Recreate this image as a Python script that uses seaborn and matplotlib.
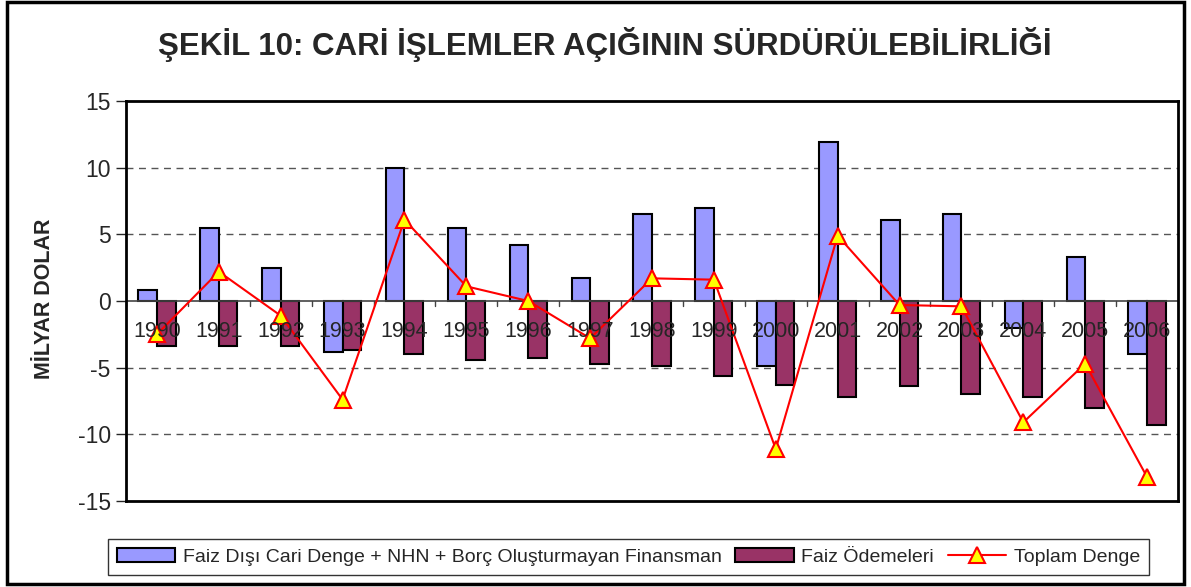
import numpy as np
import pandas as pd
import matplotlib
matplotlib.use('Agg')
import matplotlib.pyplot as plt
import seaborn as sns
from matplotlib.patches import Rectangle

sns.set_style('white')
plt.rcParams['font.family'] = ['Liberation Sans', 'DejaVu Sans']

years = ['1990', '1991', '1992', '1993', '1994', '1995', '1996', '1997', '1998',
         '1999', '2000', '2001', '2002', '2003', '2004', '2005', '2006']
faiz_disi = [0.8, 5.5, 2.5, -3.8, 10.0, 5.5, 4.2, 1.7, 6.5, 7.0, -4.9, 11.9,
             6.1, 6.5, -2.0, 3.3, -4.0]
faiz_odemeleri = [-3.4, -3.4, -3.4, -3.7, -4.0, -4.4, -4.3, -4.7, -4.9, -5.6,
                  -6.3, -7.2, -6.4, -7.0, -7.2, -8.0, -9.3]
toplam = [-2.5, 2.2, -1.1, -7.4, 6.1, 1.1, 0.0, -2.8, 1.7, 1.6, -11.1, 4.9,
          -0.3, -0.4, -9.1, -4.7, -13.2]

lab1 = 'Faiz Dışı Cari Denge + NHN + Borç Oluşturmayan Finansman'
lab2 = 'Faiz Ödemeleri'
lab3 = 'Toplam Denge'

df = pd.DataFrame({'yil': years * 2,
                   'deger': faiz_disi + faiz_odemeleri,
                   'seri': [lab1] * len(years) + [lab2] * len(years)})

fig = plt.figure(figsize=(11.91, 5.87), dpi=100)
ax = fig.add_axes([126 / 1191, 1 - 501 / 587, (1178 - 126) / 1191, (501 - 101) / 587])

sns.barplot(data=df, x='yil', y='deger', hue='seri', order=years,
            palette=['#9999FF', '#993366'], saturation=1, width=0.6, gap=0,
            edgecolor='black', linewidth=1.5, ax=ax, legend=False, errorbar=None)

line, = ax.plot(np.arange(len(years)), toplam, color='red', lw=1.5, marker='^',
                markersize=11, markerfacecolor='yellow', markeredgecolor='red',
                markeredgewidth=1.5, label=lab3, zorder=5)

ax.set_xlim(-0.5, len(years) - 0.5)
ax.set_ylim(-15, 15)
ax.set_yticks([-15, -10, -5, 0, 5, 10, 15])
ax.set_yticklabels(['-15', '-10', '-5', '0', '5', '10', '15'], fontsize=16.5)
for yv in [-10, -5, 5, 10]:
    ax.axhline(yv, color='#555555', ls=(0, (5, 4)), lw=1, zorder=0)
ax.tick_params(axis='y', direction='out', length=7, width=1, left=True, pad=4)

# x axis sits on zero
ax.axhline(0, color='#444444', lw=1.2, zorder=1)
ax.set_xticks([])
for i, y in enumerate(years):
    ax.text(i, -2.3, y, ha='center', va='center', fontsize=15.5, zorder=6)
    ax.plot([i - 0.5, i - 0.5], [0, -0.4], color='#444444', lw=1, zorder=1)
ax.set_xlabel('')
ax.set_ylabel('')

for s in ax.spines.values():
    s.set_visible(True)
    s.set_color('black')
    s.set_linewidth(2)

fig.text(45 / 1191, 1 - 299 / 587, 'MİLYAR DOLAR', rotation=90, ha='center',
         va='center', fontsize=15.5, fontweight='bold')
fig.text(605 / 1191, 1 - 45 / 587, 'ŞEKİL 10: CARİ İŞLEMLER AÇIĞININ SÜRDÜRÜLEBİLİRLİĞİ',
         ha='center', va='center', fontsize=22.5, fontweight='bold')

handles = [Rectangle((0, 0), 1, 1, facecolor='#9999FF', edgecolor='black', lw=1.5),
           Rectangle((0, 0), 1, 1, facecolor='#993366', edgecolor='black', lw=1.5),
           line]
leg = fig.legend(handles, [lab1, lab2, lab3], loc='center',
                 bbox_to_anchor=((107 + 1150) / 2 / 1191, 1 - 557 / 587),
                 ncol=3, frameon=True, fontsize=14, handlelength=3.0,
                 handletextpad=0.4, columnspacing=0.7, borderpad=0.45,
                 fancybox=False, edgecolor='black')
leg.get_frame().set_linewidth(1)

fig.patches.append(Rectangle((7 / 1191, 3 / 587), 1177 / 1191, 582 / 587,
                             transform=fig.transFigure, fill=False,
                             edgecolor='black', lw=2.5))

fig.savefig('out.png', dpi=100)
